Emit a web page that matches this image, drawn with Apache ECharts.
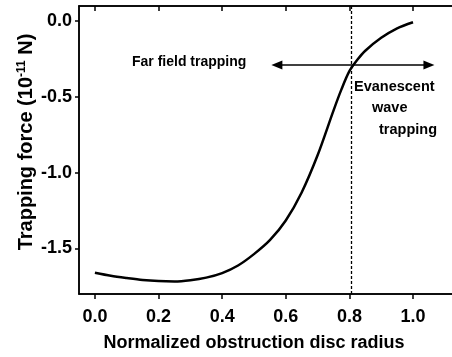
<!DOCTYPE html>
<html><head><meta charset="utf-8">
<script src="https://cdn.jsdelivr.net/npm/echarts@6/dist/echarts.min.js"></script>
<style>html,body{margin:0;padding:0;background:#fff}#c{width:452px;height:357px}</style>
</head><body><div id="c"></div>
<script>
var radius = [0, 0.05, 0.1, 0.15, 0.2, 0.25, 0.3, 0.35, 0.4, 0.45, 0.5, 0.55, 0.6, 0.65, 0.7, 0.75, 0.775, 0.8, 0.825, 0.85, 0.9, 0.95, 1.0];
var force = [-1.66, -1.68, -1.695, -1.708, -1.715, -1.717, -1.709, -1.692, -1.662, -1.612, -1.537, -1.445, -1.315, -1.13, -0.885, -0.59, -0.45, -0.33, -0.255, -0.195, -0.11, -0.047, -0.007];
var xTicks = [0, 0.2, 0.4, 0.6, 0.8, 1.0];
var yTicks = [-1.5, -1.0, -0.5, 0.0];
var boundary = 0.805;
var arrowY = -0.29;
var arrowLeft = 0.572;
var arrowRight = 1.05;

var chart = echarts.init(document.getElementById('c'));
var font = '"Liberation Sans", Arial, sans-serif';
var tickStyle = {color: '#000', width: 1.5};
var xMin = -0.05, xMax = 1.132;
chart.setOption({
  animation: false,
  grid: {left: 79, top: 6, right: -3, bottom: 63, outerBoundsMode: 'none', containLabel: false,
    show: true, borderColor: '#000', borderWidth: 1.5, backgroundColor: 'transparent'},
  xAxis: [{
    type: 'value', min: xMin, max: xMax, position: 'bottom',
    name: 'Normalized obstruction disc radius', nameLocation: 'middle', nameGap: 40, nameMoveOverlap: false,
    nameTextStyle: {fontFamily: font, fontWeight: 'bold', fontSize: 18, color: '#000', padding: [0, 26, 0, 0]},
    axisLine: {show: true, onZero: false, lineStyle: tickStyle},
    axisTick: {show: true, customValues: xTicks, length: 5, lineStyle: tickStyle},
    axisLabel: {customValues: xTicks, formatter: function(v){return v.toFixed(1);}, margin: 14,
      fontFamily: font, fontWeight: 'bold', fontSize: 18, color: '#000'},
    splitLine: {show: false}
  }, {
    type: 'value', min: xMin, max: xMax, position: 'top',
    axisLine: {show: true, onZero: false, lineStyle: tickStyle},
    axisTick: {show: true, inside: true, customValues: xTicks, length: 5, lineStyle: tickStyle},
    axisLabel: {show: true, customValues: xTicks, color: 'rgba(0,0,0,0)', fontSize: 1},
    splitLine: {show: false}
  }],
  yAxis: {
    type: 'value', min: -1.8, max: 0.1,
    axisLine: {show: true, onZero: false, lineStyle: tickStyle},
    axisTick: {show: true, customValues: yTicks, length: 4, lineStyle: tickStyle},
    axisLabel: {customValues: yTicks, formatter: function(v){return v.toFixed(1);}, margin: 7,
      fontFamily: font, fontWeight: 'bold', fontSize: 18, color: '#000'},
    splitLine: {show: false}
  },
  series: [{
    type: 'line',
    xAxisIndex: 0,
    data: radius.map(function(x, i){return [x, force[i]];}),
    smooth: 0.3,
    showSymbol: false,
    lineStyle: {color: '#000', width: 2.5},
    markLine: {
      silent: true,
      animation: false,
      label: {show: false},
      data: [
        [{coord: [boundary, arrowY], symbol: 'none'}, {coord: [arrowLeft, arrowY], symbol: 'triangle', symbolSize: [9, 11], symbolRotate: 90}],
        [{coord: [boundary, arrowY], symbol: 'none'}, {coord: [arrowRight, arrowY], symbol: 'triangle', symbolSize: [9, 11], symbolRotate: -90}],
        [{xAxis: boundary, yAxis: 0.1, symbol: 'none', lineStyle: {type: [3, 2], width: 1.3}}, {xAxis: boundary, yAxis: -1.8, symbol: 'none'}]
      ],
      lineStyle: {color: '#000', width: 1.6, type: 'solid'}
    }
  }, {
    type: 'line', xAxisIndex: 1, silent: true,
    data: radius.map(function(x, i){return [x, force[i]];}),
    showSymbol: false, lineStyle: {opacity: 0}
  }],
  graphic: [
    {type: 'text', x: 26, y: 142, rotation: Math.PI / 2,
      style: {text: 'Trapping force (10{sup|-11} N)', fontFamily: font, fontWeight: 'bold', fontSize: 20, fill: '#000',
        align: 'center', verticalAlign: 'middle',
        rich: {sup: {fontFamily: font, fontWeight: 'bold', fontSize: 12, fill: '#000', verticalAlign: 'top', padding: [0, 0, 8, 0]}}}},
    {type: 'text', left: 132, top: 55, style: {text: 'Far field trapping', fontFamily: font, fontWeight: 'bold', fontSize: 14, fill: '#000'}},
    {type: 'text', left: 354, top: 79, style: {text: 'Evanescent', fontFamily: font, fontWeight: 'bold', fontSize: 14.5, fill: '#000'}},
    {type: 'text', left: 372, top: 100, style: {text: 'wave', fontFamily: font, fontWeight: 'bold', fontSize: 14.5, fill: '#000'}},
    {type: 'text', left: 379, top: 122, style: {text: 'trapping', fontFamily: font, fontWeight: 'bold', fontSize: 14.5, fill: '#000'}}
  ]
});
</script></body></html>
